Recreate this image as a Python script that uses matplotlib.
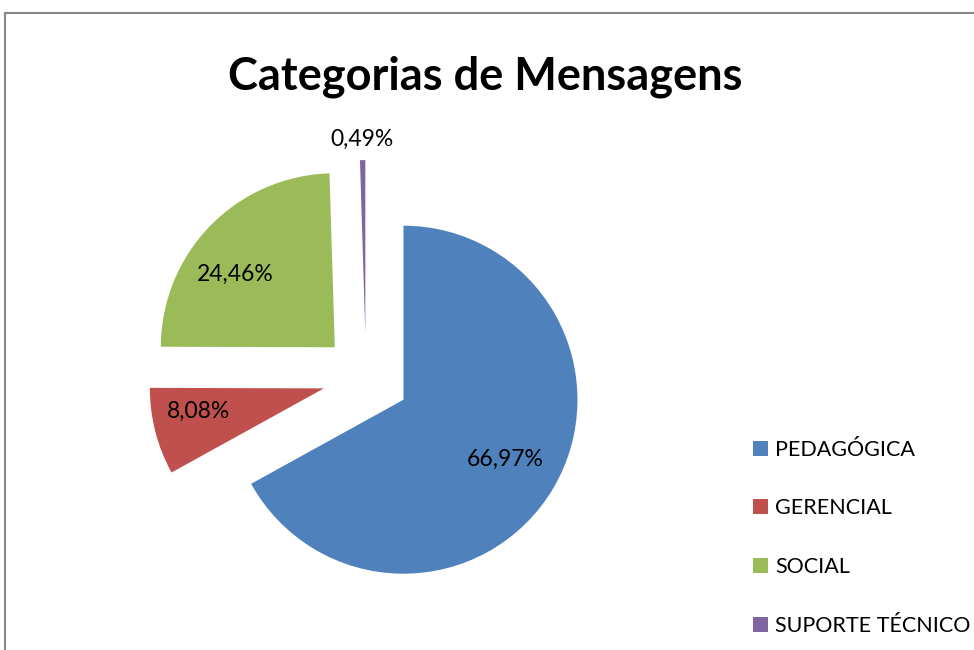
import matplotlib
matplotlib.use("Agg")
import matplotlib.pyplot as plt
import numpy as np
from matplotlib.patches import Rectangle

categories = ["PEDAGÓGICA", "GERENCIAL", "SOCIAL", "SUPORTE TÉCNICO"]
shares = [66.97, 8.08, 24.46, 0.49]
colors = ["#4F81BD", "#C0504D", "#9BBB59", "#8064A2"]
explode = [0.25, 0.25, 0.25, 0.25]
label_dist = [0.68, 0.73, 0.71, 1.12]
label_turn = [0, -4, 8, 0]  # degrees off the bisector, as Excel places them

plt.rcParams["font.family"] = ["Lato", "DejaVu Sans"]

W, H = 974, 650
fig = plt.figure(figsize=(W / 100, H / 100), dpi=100)
ax = fig.add_axes([0, 0, 1, 1])

wedges, _ = ax.pie(shares, colors=colors, explode=explode, startangle=90,
                   counterclock=False, radius=1.0,
                   wedgeprops=dict(linewidth=0))

# pie centre at pixel (366, 378) with radius 174 px
cx, cy, r_px = 366, 377.6, 174
ax.set_xlim(-cx / r_px, (W - cx) / r_px)
ax.set_ylim(-(H - cy) / r_px, cy / r_px)
ax.set_aspect("auto")
ax.axis("off")

for w, v, d, t in zip(wedges, shares, label_dist, label_turn):
    ang = np.deg2rad((w.theta1 + w.theta2) / 2 + t)
    x0, y0 = w.center
    ax.text(x0 + d * np.cos(ang), y0 + d * np.sin(ang),
            f"{v:.2f}%".replace(".", ","), ha="center", va="center",
            fontsize=16.5, color="black")

fig.text(485 / W, 1 - 77 / H, "Categorias de Mensagens", ha="center", va="center",
         fontsize=32.5, fontweight="bold")

fig.legend(wedges, categories, loc="upper left",
           bbox_to_anchor=(744 / W, 1 - 431 / H), frameon=False,
           fontsize=15.5, handlelength=0.7, handleheight=0.7,
           handletextpad=0.35, labelspacing=1.8, borderaxespad=0)

fig.add_artist(Rectangle((5 / W, -0.1), 1.2, (H - 13) / H + 0.1,
                         transform=fig.transFigure, fill=False,
                         edgecolor="#868686", linewidth=1.5))

fig.savefig("out.png", dpi=100)
